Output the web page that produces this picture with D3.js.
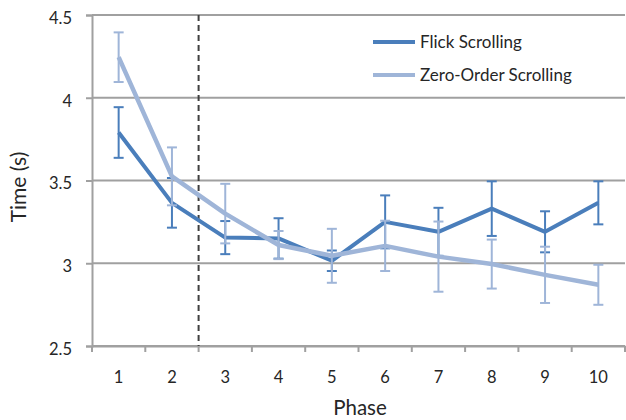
<!DOCTYPE html>
<html>
<head>
<meta charset="utf-8">
<script src="https://cdn.jsdelivr.net/npm/d3@7"></script>
<style>
  html, body { margin: 0; padding: 0; background: #fff; }
  svg { display: block; font-family: Lato, "Open Sans", sans-serif; }
</style>
</head>
<body>
<svg id="chart" width="626" height="420"></svg>
<script>
const phases = ["1", "2", "3", "4", "5", "6", "7", "8", "9", "10"];
const flickValues = [3.79, 3.365, 3.155, 3.15, 3.015, 3.25, 3.19, 3.33, 3.19, 3.365];
const flickErrors = [0.153, 0.15, 0.10, 0.122, 0.062, 0.16, 0.145, 0.165, 0.124, 0.13];
const zeroValues = [4.245, 3.525, 3.30, 3.11, 3.045, 3.105, 3.04, 2.995, 2.93, 2.87];
const zeroErrors = [0.15, 0.175, 0.18, 0.085, 0.163, 0.152, 0.212, 0.148, 0.17, 0.121];
const yTicks = [2.5, 3, 3.5, 4, 4.5];
const seriesNames = ["Flick Scrolling", "Zero-Order Scrolling"];
const seriesColors = ["#4a7ebb", "#9fb5d8"];

const svg = d3.select("#chart");
const plotLeft = 92, plotRight = 625, plotTop = 15, plotBottom = 346;

const x = d3.scaleBand().domain(phases).range([plotLeft, plotRight]).paddingInner(0).paddingOuter(0);
const y = d3.scaleLinear().domain([2.5, 4.5]).range([plotBottom, plotTop]);

// gridlines
svg.append("g").selectAll("line").data(yTicks).join("line")
  .attr("x1", plotLeft).attr("x2", plotRight)
  .attr("y1", d => y(d)).attr("y2", d => y(d))
  .attr("stroke", "#a0a0a0").attr("stroke-width", 2);

// y axis
const yAxis = svg.append("g").attr("transform", `translate(${plotLeft},0)`)
  .call(d3.axisLeft(y).tickValues(yTicks).tickSize(6).tickPadding(14)
    .tickFormat(d => d3.format("")(d)));
yAxis.select(".domain").attr("stroke", "#a0a0a0").attr("stroke-width", 2);
yAxis.selectAll(".tick line").attr("stroke", "#a0a0a0").attr("stroke-width", 2);
yAxis.selectAll(".tick text").attr("font-size", 16.5).attr("fill", "#262626")
  .attr("font-family", "Lato, sans-serif").attr("dy", "0.5em");

// x axis
const xAxis = svg.append("g").attr("transform", `translate(0,${plotBottom})`)
  .call(d3.axisBottom(x).tickSize(0).tickPadding(25));
xAxis.select(".domain").attr("stroke", "#a0a0a0").attr("stroke-width", 2);
xAxis.selectAll(".tick text").attr("font-size", 16.5).attr("fill", "#262626")
  .attr("font-family", "Lato, sans-serif");
// boundary ticks
const bounds = phases.map(p => x(p)).concat([x(phases[phases.length - 1]) + x.bandwidth()]);
svg.append("g").selectAll("line").data(bounds).join("line")
  .attr("x1", d => d).attr("x2", d => d)
  .attr("y1", plotBottom).attr("y2", plotBottom + 6)
  .attr("stroke", "#a0a0a0").attr("stroke-width", 2);

// dashed separator between phase 2 and 3
svg.append("line")
  .attr("x1", x("3")).attr("x2", x("3"))
  .attr("y1", plotTop).attr("y2", plotBottom)
  .attr("stroke", "#404040").attr("stroke-width", 2)
  .attr("stroke-dasharray", "6,4");

// axis titles
svg.append("text").attr("x", 360).attr("y", 415)
  .attr("text-anchor", "middle").attr("font-size", 20.5).attr("fill", "#262626")
  .text("Phase");
svg.append("text")
  .attr("transform", `translate(26,187) rotate(-90)`)
  .attr("text-anchor", "middle").attr("font-size", 21).attr("fill", "#262626")
  .text("Time (s)");

const cx = p => x(p) + x.bandwidth() / 2;
const line = d3.line().x(d => cx(d.p)).y(d => y(d.v));

function drawSeries(values, errors, color, width) {
  const data = phases.map((p, i) => ({ p, v: values[i], e: errors[i] }));
  svg.append("path").datum(data)
    .attr("d", line).attr("fill", "none")
    .attr("stroke", color).attr("stroke-width", width)
    .attr("stroke-linejoin", "round");
  const g = svg.append("g").attr("stroke", color).attr("stroke-width", 2);
  g.selectAll(".v").data(data).join("line")
    .attr("x1", d => cx(d.p)).attr("x2", d => cx(d.p))
    .attr("y1", d => y(d.v + d.e)).attr("y2", d => y(d.v - d.e));
  g.selectAll(".t").data(data).join("line")
    .attr("x1", d => cx(d.p) - 5).attr("x2", d => cx(d.p) + 5)
    .attr("y1", d => y(d.v + d.e)).attr("y2", d => y(d.v + d.e));
  g.selectAll(".b").data(data).join("line")
    .attr("x1", d => cx(d.p) - 5).attr("x2", d => cx(d.p) + 5)
    .attr("y1", d => y(d.v - d.e)).attr("y2", d => y(d.v - d.e));
}
drawSeries(flickValues, flickErrors, seriesColors[0], 4);
drawSeries(zeroValues, zeroErrors, seriesColors[1], 4.5);

// legend
const legend = svg.append("g");
seriesNames.forEach((name, i) => {
  const ly = 42 + i * 33;
  legend.append("line").attr("x1", 373).attr("x2", 415)
    .attr("y1", ly).attr("y2", ly)
    .attr("stroke", seriesColors[i]).attr("stroke-width", 4);
  legend.append("text").attr("x", 420).attr("y", ly + 6)
    .attr("font-size", 17).attr("fill", "#262626").text(name);
});
</script>
</body>
</html>
